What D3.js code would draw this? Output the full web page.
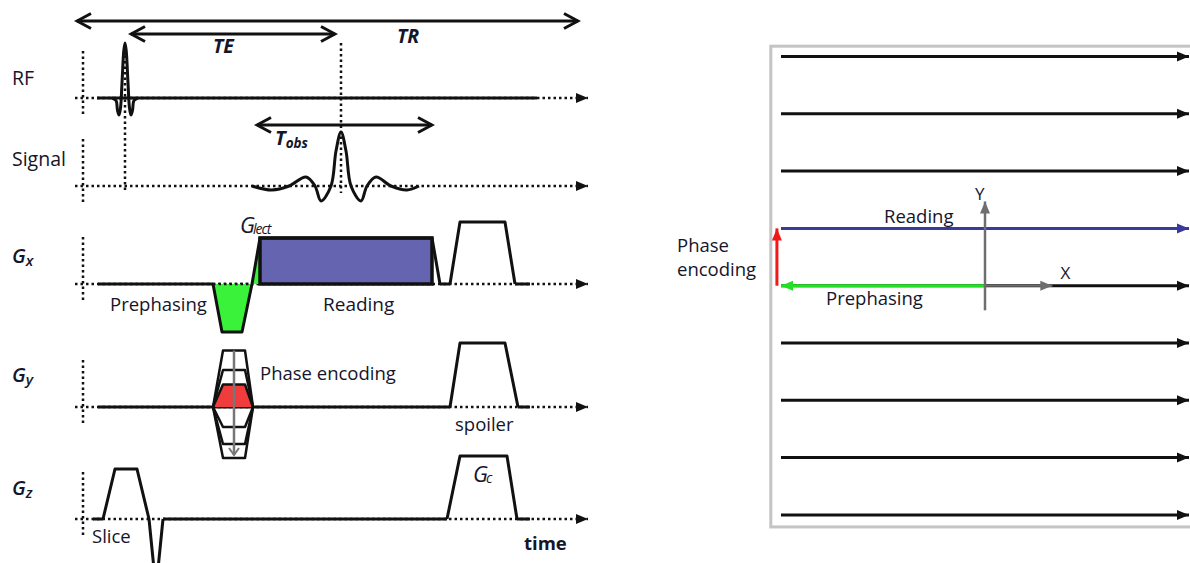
<!DOCTYPE html>
<html>
<head>
<meta charset="utf-8">
<script src="https://cdn.jsdelivr.net/npm/d3@7"></script>
<style>
  body { margin: 0; background: #fff; }
  svg { display: block; }
  text { font-family: "Open Sans", sans-serif; fill: #15152b; }
</style>
</head>
<body>
<svg id="chart" width="1190" height="563"></svg>
<script>
// ---- timing (arbitrary time units) ----
const rfCenter = 4.2;
const echoCenter = 25.8;
const trSpan = [-0.6, 49.5];
const teSpan = [4.8, 25.2];
const obsSpan = [17.4, 34.9];

// RF pulse shape, [dt, amplitude] around rfCenter
const rfPulse = [[-1.3, 0], [-0.9, -0.05], [-0.75, -0.25], [-0.6, -0.34], [-0.45, -0.2], [-0.3, 0.3],
  [-0.12, 0.95], [0, 1.1], [0.12, 0.95], [0.3, 0.3], [0.45, -0.2], [0.6, -0.34], [0.75, -0.25], [0.9, -0.05], [1.3, 0]];
// echo signal, [dt, amplitude] around echoCenter
const signalEcho = [[-8.9, 0], [-6.9, -0.08], [-5.2, 0], [-3.5, 0.18], [-2.6, 0], [-2.0, -0.3], [-1.0, 0],
  [-0.5, 0.7], [0, 1.08], [0.5, 0.7], [1.0, 0], [2.0, -0.3], [2.6, 0], [3.5, 0.18], [5.0, 0], [6.6, -0.08], [7.8, 0]];

// gradient waveforms, [t, amplitude]
const gxPrephase = [[13.0, 0], [13.9, -0.96], [15.9, -0.96], [16.9, 0]];
const gxReadout = [[16.9, 0], [17.7, 0.92], [34.9, 0.92], [35.7, 0]];
const gxSpoiler = [[36.7, 0], [37.7, 1.24], [42.2, 1.24], [43.2, 0]];
const gyRampTimes = [13.0, 14.0, 16.2, 17.0];
const gyPhaseSteps = [1.13, 0.74, 0.45, -0.4, -0.74, -1.02];
const gyCurrentStep = 0.45;
const gySpoiler = [[36.7, 0], [37.7, 1.28], [42.2, 1.28], [43.5, 0]];
const gzSlice = [[2.0, 0], [3.2, 1.0], [5.4, 1.0], [6.6, 0], [7.2, -1.2], [7.4, -1.2], [8.0, 0]];
const gzCrusher = [[36.4, 0], [37.7, 1.26], [42.4, 1.26], [43.4, 0]];

// solid parts of each baseline, [t0, t1]
const rfSolid = [[1.4, 45.4]];
const gxSolid = [[1.5, 13.0], [35.7, 36.7], [43.2, 44.7]];
const gySolid = [[1.5, 36.7], [43.5, 44.7]];
const gzSolid = [[1.0, 2.0], [8.0, 36.4], [43.4, 44.7]];

// k-space lines (phase encoding steps)
const kyLines = [4, 3, 2, 1, 0, -1, -2, -3, -4];
const kyCurrent = 1;

const svg = d3.select('#chart');
const ink = '#111';

// ---- markers ----
const defs = svg.append('defs');
const arrowColors = { k: '#111', blue: '#3a3a9c', green: '#22e022', red: '#f01818', gray: '#6e6e6e' };
Object.entries(arrowColors).forEach(([name, color]) => {
  defs.append('marker')
    .attr('id', `tri-${name}`)
    .attr('markerUnits', 'userSpaceOnUse')
    .attr('viewBox', '-13 -6 14 12')
    .attr('markerWidth', 14).attr('markerHeight', 12)
    .attr('refX', 0).attr('refY', 0)
    .attr('orient', 'auto-start-reverse')
    .append('path')
    .attr('d', 'M-12,-5 L0,0 L-12,5 Z')
    .attr('fill', color);
});
defs.append('marker')
  .attr('id', 'chev')
  .attr('markerUnits', 'userSpaceOnUse')
  .attr('viewBox', '-17 -10 20 20')
  .attr('markerWidth', 20).attr('markerHeight', 20)
  .attr('refX', 0).attr('refY', 0)
  .attr('orient', 'auto-start-reverse')
  .append('path')
  .attr('d', 'M-14,-7.5 L0,0 L-14,7.5')
  .attr('fill', 'none').attr('stroke', ink).attr('stroke-width', 3);
defs.append('marker')
  .attr('id', 'chev-gray')
  .attr('markerUnits', 'userSpaceOnUse')
  .attr('viewBox', '-10 -7 12 14')
  .attr('markerWidth', 12).attr('markerHeight', 14)
  .attr('refX', 0).attr('refY', 0)
  .attr('orient', 'auto')
  .append('path')
  .attr('d', 'M-7,-5 L0,0 L-7,5')
  .attr('fill', 'none').attr('stroke', '#777').attr('stroke-width', 2);

// ---- left panel: pulse sequence ----
const x = d3.scaleLinear().domain([0, 50]).range([83, 583]);
const channels = [
  { key: 'rf', base: 98, label: 'RF', labelDy: -13 },
  { key: 'sig', base: 186, label: 'Signal', labelDy: -20 },
  { key: 'gx', base: 284, label: 'G', sub: 'x', labelDy: -21 },
  { key: 'gy', base: 407, label: 'G', sub: 'y', labelDy: -25 },
  { key: 'gz', base: 519, label: 'G', sub: 'z', labelDy: -24 }
];
const yScales = {};
channels.forEach(c => {
  yScales[c.key] = d3.scaleLinear().domain([0, 1]).range([c.base, c.base - 50]);
});
const lineOf = (key, curve) => d3.line()
  .x(d => x(d[0])).y(d => yScales[key](d[1]))
  .curve(curve || d3.curveLinear);
const areaOf = key => d3.area()
  .x(d => x(d[0])).y0(yScales[key](0)).y1(d => yScales[key](d[1]));

const left = svg.append('g');

// dotted axes and baselines
channels.forEach(c => {
  const y = yScales[c.key];
  left.append('line')
    .attr('x1', x(0)).attr('x2', x(0))
    .attr('y1', c.base - 47).attr('y2', c.base + 16)
    .attr('stroke', ink).attr('stroke-width', 2.5).attr('stroke-dasharray', '2.5,3');
  left.append('line')
    .attr('x1', x(-0.8)).attr('x2', x(50.5))
    .attr('y1', y(0)).attr('y2', y(0))
    .attr('stroke', ink).attr('stroke-width', 2.5).attr('stroke-dasharray', '2.5,3')
    .attr('marker-end', 'url(#tri-k)');
  const lab = left.append('text')
    .attr('x', 12).attr('y', c.base + c.labelDy)
    .attr('font-size', 19.5);
  if (c.sub) {
    lab.attr('font-style', 'italic').attr('font-weight', 600).attr('font-size', 20);
    lab.append('tspan').text(c.label);
    lab.append('tspan').attr('dy', 3).attr('font-size', 15).text(c.sub);
  } else {
    lab.text(c.label);
  }
});

const solidSegs = { rf: rfSolid, gx: gxSolid, gy: gySolid, gz: gzSolid };
Object.entries(solidSegs).forEach(([key, segs]) => {
  left.selectAll(null).data(segs).enter().append('line')
    .attr('x1', d => x(d[0])).attr('x2', d => x(d[1]))
    .attr('y1', yScales[key](0)).attr('y2', yScales[key](0))
    .attr('stroke', ink).attr('stroke-width', 3);
});

// timing guides
const guides = [rfCenter, echoCenter];
left.selectAll(null).data(guides).enter().append('line')
  .attr('x1', d => x(d)).attr('x2', d => x(d))
  .attr('y1', (d, i) => i === 0 ? 50 : 43).attr('y2', 193)
  .attr('stroke', ink).attr('stroke-width', 2.5).attr('stroke-dasharray', '2.5,3');

// TR / TE / Tobs spans (double-headed)
const spans = [
  { t: trSpan, y: 21 },
  { t: teSpan, y: 34 },
  { t: obsSpan, y: 125 }
];
left.selectAll(null).data(spans).enter().append('line')
  .attr('x1', d => x(d.t[0])).attr('x2', d => x(d.t[1]))
  .attr('y1', d => d.y).attr('y2', d => d.y)
  .attr('stroke', ink).attr('stroke-width', 3)
  .attr('marker-start', 'url(#chev)')
  .attr('marker-end', 'url(#chev)');

left.append('text').attr('x', x(13.0)).attr('y', 53)
  .attr('font-style', 'italic').attr('font-weight', 700).attr('font-size', 19.5).text('TE');
left.append('text').attr('x', x(31.4)).attr('y', 43)
  .attr('font-style', 'italic').attr('font-weight', 700).attr('font-size', 19.5).text('TR');
const tobs = left.append('text').attr('x', x(19.2)).attr('y', 145)
  .attr('font-style', 'italic').attr('font-weight', 700).attr('font-size', 20);
tobs.append('tspan').text('T');
tobs.append('tspan').attr('dy', 3).attr('font-size', 13.5).text('obs');

// RF pulse
left.append('path')
  .datum(rfPulse.map(d => [d[0] + rfCenter, d[1]]))
  .attr('d', lineOf('rf', d3.curveCatmullRom))
  .attr('fill', 'none').attr('stroke', ink).attr('stroke-width', 3);

// echo signal
left.append('path')
  .datum(signalEcho.map(d => [d[0] + echoCenter, d[1]]))
  .attr('d', lineOf('sig', d3.curveCatmullRom))
  .attr('fill', 'none').attr('stroke', ink).attr('stroke-width', 3);

// Gx: prephasing lobe, readout plateau, spoiler
left.append('path').datum(gxPrephase)
  .attr('d', areaOf('gx')).attr('fill', '#39f239');
left.append('path').datum(gxReadout.slice(0, 2).concat([[gxReadout[1][0], 0]]))
  .attr('d', lineOf('gx')).attr('fill', '#39f239');
left.append('rect')
  .attr('x', x(gxReadout[1][0])).attr('y', yScales.gx(gxReadout[1][1]))
  .attr('width', x(gxReadout[2][0]) - x(gxReadout[1][0]))
  .attr('height', yScales.gx(0) - yScales.gx(gxReadout[1][1]))
  .attr('fill', '#6464b0').attr('stroke', ink).attr('stroke-width', 3.5);
[gxPrephase, gxReadout, gxSpoiler].forEach(w => {
  left.append('path').datum(w).attr('d', lineOf('gx'))
    .attr('fill', 'none').attr('stroke', ink).attr('stroke-width', 3).attr('stroke-linejoin', 'round');
});
left.append('line')
  .attr('x1', x(gxPrephase[0][0])).attr('x2', x(gxPrephase[3][0]))
  .attr('y1', yScales.gx(0)).attr('y2', yScales.gx(0))
  .attr('stroke', ink).attr('stroke-width', 2.5).attr('stroke-dasharray', '2.5,3');

const glect = left.append('text').attr('x', x(15.7)).attr('y', 233)
  .attr('font-family', '"Liberation Serif", serif').attr('font-style', 'italic').attr('font-size', 22);
glect.append('tspan').text('G');
glect.append('tspan').attr('dx', -2).attr('dy', 1).attr('font-size', 14).attr('letter-spacing', -1).text('lect');

left.append('text').attr('x', 110).attr('y', 311).attr('font-size', 18.5).text('Prephasing');
left.append('text').attr('x', 323).attr('y', 311).attr('font-size', 19).text('Reading');

// Gy: phase-encoding table
const trap = a => [[gyRampTimes[0], 0], [gyRampTimes[1], a], [gyRampTimes[2], a], [gyRampTimes[3], 0]];
left.append('path').datum(trap(gyCurrentStep))
  .attr('d', areaOf('gy')).attr('fill', '#f03c3c');
left.selectAll(null).data(gyPhaseSteps).enter().append('path')
  .attr('d', d => lineOf('gy')(trap(d)))
  .attr('fill', 'none').attr('stroke', ink).attr('stroke-width', 2.5).attr('stroke-linejoin', 'round');
const tMid = (gyRampTimes[1] + gyRampTimes[2]) / 2;
left.append('line')
  .attr('x1', x(tMid)).attr('x2', x(tMid))
  .attr('y1', yScales.gy(d3.max(gyPhaseSteps))).attr('y2', yScales.gy(d3.min(gyPhaseSteps)) - 3)
  .attr('stroke', '#777').attr('stroke-width', 2.5)
  .attr('marker-end', 'url(#chev-gray)');
left.append('path').datum(gySpoiler).attr('d', lineOf('gy'))
  .attr('fill', 'none').attr('stroke', ink).attr('stroke-width', 3).attr('stroke-linejoin', 'round');
left.append('text').attr('x', 260).attr('y', 380).attr('font-size', 18.5).text('Phase encoding');
left.append('text').attr('x', 455).attr('y', 431).attr('font-size', 18.5).text('spoiler');

// Gz: slice selection and crusher
[gzSlice, gzCrusher].forEach(w => {
  left.append('path').datum(w).attr('d', lineOf('gz'))
    .attr('fill', 'none').attr('stroke', ink).attr('stroke-width', 3).attr('stroke-linejoin', 'round');
});
left.append('text').attr('x', 92).attr('y', 543).attr('font-size', 18.5).text('Slice');
const gc = left.append('text').attr('x', 473).attr('y', 482)
  .attr('font-family', '"Liberation Serif", serif').attr('font-style', 'italic').attr('font-size', 22);
gc.append('tspan').text('G');
gc.append('tspan').attr('dx', -2).attr('dy', 1).attr('font-size', 14).text('c');
left.append('text').attr('x', 524).attr('y', 550).attr('font-size', 18.5).attr('font-weight', 700).text('time');

// ---- right panel: k-space trajectory ----
const kx = d3.scaleLinear().domain([-1, 1]).range([781, 1189]);
const ky = d3.scaleLinear().domain([0, 1]).range([285.7, 228.4]);
const right = svg.append('g');

right.append('rect')
  .attr('x', kx(-1.05)).attr('y', ky(4.18))
  .attr('width', 1300 - kx(-1.05)).attr('height', ky(-4.21) - ky(4.18))
  .attr('fill', 'none').attr('stroke', '#c4c4c4').attr('stroke-width', 3);

right.selectAll(null).data(kyLines).enter().append('line')
  .attr('x1', kx(-1)).attr('x2', kx(1))
  .attr('y1', d => ky(d)).attr('y2', d => ky(d))
  .attr('stroke', d => d === kyCurrent ? arrowColors.blue : ink)
  .attr('stroke-width', 3)
  .attr('marker-end', d => d === kyCurrent ? 'url(#tri-blue)' : 'url(#tri-k)');

// prephasing move (green), phase step (red)
right.append('line')
  .attr('x1', kx(0)).attr('x2', kx(-1))
  .attr('y1', ky(0)).attr('y2', ky(0))
  .attr('stroke', arrowColors.green).attr('stroke-width', 3)
  .attr('marker-end', 'url(#tri-green)');
right.append('line')
  .attr('x1', kx(-1.02)).attr('x2', kx(-1.02))
  .attr('y1', ky(0)).attr('y2', ky(kyCurrent))
  .attr('stroke', arrowColors.red).attr('stroke-width', 3)
  .attr('marker-end', 'url(#tri-red)');

// axes
right.append('line')
  .attr('x1', kx(0)).attr('x2', kx(0))
  .attr('y1', ky(-0.43)).attr('y2', ky(1.47))
  .attr('stroke', arrowColors.gray).attr('stroke-width', 2.5)
  .attr('marker-end', 'url(#tri-gray)');
right.append('line')
  .attr('x1', kx(0)).attr('x2', kx(0.33))
  .attr('y1', ky(0)).attr('y2', ky(0))
  .attr('stroke', arrowColors.gray).attr('stroke-width', 2)
  .attr('marker-end', 'url(#tri-gray)');

right.append('text').attr('x', kx(0) - 10).attr('y', 200).attr('font-size', 17).text('Y');
right.append('text').attr('x', kx(0.37)).attr('y', 279).attr('font-size', 17).text('X');
right.append('text').attr('x', 884).attr('y', 223).attr('font-size', 18.5).text('Reading');
right.append('text').attr('x', 826).attr('y', 305).attr('font-size', 18.5).text('Prephasing');
right.append('text').attr('x', 677).attr('y', 252).attr('font-size', 18.5).text('Phase');
right.append('text').attr('x', 677).attr('y', 276).attr('font-size', 18.5).text('encoding');
</script>
</body>
</html>
